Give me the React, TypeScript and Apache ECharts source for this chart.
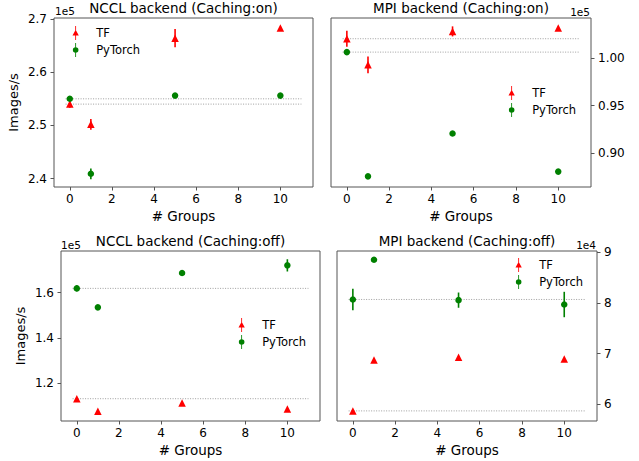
import React, { useEffect, useRef } from "react";
import * as echarts from "echarts";

const groups = [0, 1, 5, 10];

// Panel 1: NCCL backend (Caching:on)
const ncclOnTF = [254000, 250200, 266400, 268300];
const ncclOnTFErr = [700, 1000, 1700, 250];
const ncclOnPT = [255000, 240900, 255600, 255600];
const ncclOnPTErr = [250, 1000, 200, 200];

// Panel 2: MPI backend (Caching:on)
const mpiOnTF = [102040, 99290, 102810, 103170];
const mpiOnTFErr = [850, 880, 530, 150];
const mpiOnPT = [100630, 87560, 92070, 88060];
const mpiOnPTErr = [280, 150, 150, 150];

// Panel 3: NCCL backend (Caching:off)
const ncclOffTF = [113240, 107650, 111320, 108680];
const ncclOffTFErr = [300, 300, 300, 300];
const ncclOffPT = [161910, 153530, 168680, 172060];
const ncclOffPTErr = [1300, 300, 400, 2700];

// Panel 4: MPI backend (Caching:off)
const mpiOffTF = [58740, 68740, 69270, 68940];
const mpiOffTFErr = [100, 100, 100, 100];
const mpiOffPT = [80660, 88480, 80530, 79670];
const mpiOffPTErr = [2100, 150, 1500, 2500];

const titles = [
  "NCCL backend (Caching:on)",
  "MPI backend (Caching:on)",
  "NCCL backend (Caching:off)",
  "MPI backend (Caching:off)",
];
const xTicks = [0, 2, 4, 6, 8, 10];
const yTicks1 = [240000, 250000, 260000, 270000];
const yTicks2 = [90000, 95000, 100000];
const yTicks3 = [120000, 140000, 160000];
const yTicks4 = [60000, 70000, 80000, 90000];
const offsets = ["1e5", "1e5", "1e5", "1e4"];
const xName = "# Groups";
const yName = "Images/s";
const hlineStart = -0.2;
const hlineEnd = 11;

const RED = "#ff0000";
const GREEN = "#008000";
const FONT = "DejaVu Sans";
const SPINE = "#555";

const triIcon =
  "path://M4.4,0 L5.6,0 L5.6,6 L4.4,6 Z M5,5.5 L9.5,13.5 L0.5,13.5 Z M4.4,13.5 L5.6,13.5 L5.6,20 L4.4,20 Z";
const circIcon =
  "path://M4.4,0 L5.6,0 L5.6,6 L4.4,6 Z M1,10 A4,4 0 1,0 9,10 A4,4 0 1,0 1,10 Z M4.4,14 L5.6,14 L5.6,20 L4.4,20 Z";

const grids = [
  { left: 54, top: 18, width: 259, height: 169 },
  { left: 331, top: 18, width: 260, height: 169 },
  { left: 61, top: 251, width: 259, height: 170 },
  { left: 337, top: 251, width: 260, height: 170 },
];

const panels = [
  { tf: ncclOnTF, tfe: ncclOnTFErr, pt: ncclOnPT, pte: ncclOnPTErr, yMin: 238420, yMax: 270190, ticks: yTicks1, div: 1e5, dec: 1, right: false },
  { tf: mpiOnTF, tfe: mpiOnTFErr, pt: mpiOnPT, pte: mpiOnPTErr, yMin: 86440, yMax: 104220, ticks: yTicks2, div: 1e5, dec: 2, right: true },
  { tf: ncclOffTF, tfe: ncclOffTFErr, pt: ncclOffPT, pte: ncclOffPTErr, yMin: 103400, yMax: 178400, ticks: yTicks3, div: 1e5, dec: 1, right: false },
  { tf: mpiOffTF, tfe: mpiOffTFErr, pt: mpiOffPT, pte: mpiOffPTErr, yMin: 56750, yMax: 90200, ticks: yTicks4, div: 1e4, dec: 0, right: true },
];

const legendPos = [
  { left: 72.5, top: 26 },
  { left: 508.5, top: 86 },
  { left: 238.5, top: 318 },
  { left: 515.5, top: 258 },
];

const offsetPos = [
  { x: 55, y: 11, align: "left" },
  { x: 590, y: 12, align: "right" },
  { x: 61, y: 245, align: "left" },
  { x: 596, y: 245, align: "right" },
];

function errSeries(name: string, xs: number[], vs: number[], es: number[], color: string, idx: number) {
  return {
    name,
    type: "custom",
    xAxisIndex: idx,
    yAxisIndex: idx,
    encode: { x: 0, y: [1, 2] },
    data: xs.map((g, i) => [g, vs[i] - es[i], vs[i] + es[i]]),
    renderItem: (params: any, api: any) => {
      const x = api.value(0);
      const p1 = api.coord([x, api.value(1)]);
      const p2 = api.coord([x, api.value(2)]);
      return {
        type: "line",
        shape: { x1: p1[0], y1: p1[1], x2: p2[0], y2: p2[1] },
        style: { stroke: color, lineWidth: 1.6 },
      };
    },
    z: 3,
  };
}

export default function App() {
  const ref = useRef<HTMLDivElement>(null);
  useEffect(() => {
    if (!ref.current) return;
    const chart = echarts.init(ref.current, null, { renderer: "svg" });
    const series: any[] = [];
    panels.forEach((p, idx) => {
      series.push({
        name: "hl-tf-" + idx,
        type: "line",
        xAxisIndex: idx,
        yAxisIndex: idx,
        symbol: "none",
        data: [[hlineStart, p.tf[0]], [hlineEnd, p.tf[0]]],
        lineStyle: { color: "#888", width: 0.8, type: [1, 1.5] },
        z: 1,
      });
      series.push({
        name: "hl-pt-" + idx,
        type: "line",
        xAxisIndex: idx,
        yAxisIndex: idx,
        symbol: "none",
        data: [[hlineStart, p.pt[0]], [hlineEnd, p.pt[0]]],
        lineStyle: { color: "#888", width: 0.8, type: [1, 1.5] },
        z: 1,
      });
      series.push(errSeries("err-tf-" + idx, groups, p.tf, p.tfe, RED, idx));
      series.push({
        name: "TF",
        type: "scatter",
        xAxisIndex: idx,
        yAxisIndex: idx,
        symbol: "triangle",
        symbolSize: 7.5,
        itemStyle: { color: RED, opacity: 1 },
        data: groups.map((g, i) => [g, p.tf[i]]),
        z: 4,
      });
      series.push(errSeries("err-pt-" + idx, groups, p.pt, p.pte, GREEN, idx));
      series.push({
        name: "PyTorch",
        type: "scatter",
        xAxisIndex: idx,
        yAxisIndex: idx,
        symbol: "circle",
        symbolSize: 6.5,
        itemStyle: { color: GREEN, opacity: 1 },
        data: groups.map((g, i) => [g, p.pt[i]]),
        z: 5,
      });
    });

    const option: any = {
      animation: false,
      backgroundColor: "#ffffff",
      textStyle: { fontFamily: FONT },
      title: titles.map((t, i) => ({
        text: t,
        left: grids[i].left + grids[i].width / 2,
        top: grids[i].top - 17,
        textAlign: "center",
        textStyle: { fontFamily: FONT, fontSize: 13.5, fontWeight: "normal", color: "#000" },
        padding: 0,
      })),
      grid: grids.map((g) => ({
        ...g,
        show: true,
        borderColor: SPINE,
        borderWidth: 1,
        backgroundColor: "transparent",
        containLabel: false,
      })),
      legend: legendPos.map((lp) => ({
        left: lp.left,
        top: lp.top,
        orient: "vertical",
        itemWidth: 7,
        itemHeight: 14,
        itemGap: 3,
        padding: 0,
        selectedMode: false,
        textStyle: { fontFamily: FONT, fontSize: 11.5, color: "#000", padding: [0, 0, 0, 12] },
        data: [
          { name: "TF", icon: triIcon, itemStyle: { color: RED } },
          { name: "PyTorch", icon: circIcon, itemStyle: { color: GREEN } },
        ],
      })),
      xAxis: panels.map((p, i) => ({
        type: "value",
        gridIndex: i,
        min: -0.75,
        max: 11.55,
        name: xName,
        nameLocation: "middle",
        nameGap: 22,
        nameMoveOverlap: false,
        nameTextStyle: { fontFamily: FONT, fontSize: 13.5, color: "#000" },
        axisLine: { show: false, onZero: false },
        splitLine: { show: false },
        axisTick: { show: true, length: 3.5, lineStyle: { color: SPINE }, customValues: xTicks },
        axisLabel: {
          fontFamily: FONT,
          fontSize: 12,
          color: "#000",
          margin: 6,
          customValues: xTicks,
          formatter: (v: number) => String(v),
        },
      })),
      yAxis: panels.map((p, i) => ({
        type: "value",
        gridIndex: i,
        position: p.right ? "right" : "left",
        min: p.yMin,
        max: p.yMax,
        name: p.right ? "" : yName,
        nameLocation: "middle",
        nameGap: 34,
        nameMoveOverlap: false,
        nameTextStyle: { fontFamily: FONT, fontSize: 13, color: "#000" },
        axisLine: { show: false, onZero: false },
        splitLine: { show: false },
        axisTick: { show: true, length: 3.5, lineStyle: { color: SPINE }, customValues: p.ticks },
        axisLabel: {
          fontFamily: FONT,
          fontSize: 12,
          color: "#000",
          margin: 7,
          customValues: p.ticks,
          formatter: (v: number) => (v / p.div).toFixed(p.dec),
        },
      })),
      graphic: offsets.map((o, i) => ({
        type: "text",
        x: offsetPos[i].x,
        y: offsetPos[i].y,
        style: {
          text: o,
          fontFamily: FONT,
          fontSize: 10.5,
          fill: "#000",
          textAlign: offsetPos[i].align,
          textVerticalAlign: "middle",
        },
      })),
      series,
    };
    chart.setOption(option);
    return () => chart.dispose();
  }, []);
  return (
    <div
      ref={ref}
      style={{ position: "fixed", left: 0, top: 0, width: 639, height: 461, background: "#fff" }}
    />
  );
}
